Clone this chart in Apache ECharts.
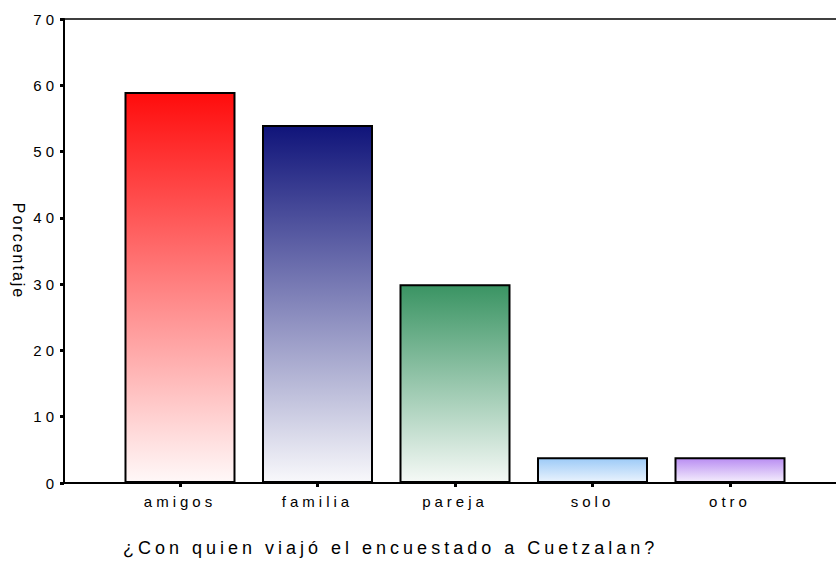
<!DOCTYPE html>
<html>
<head>
<meta charset="utf-8">
<script src="https://cdn.jsdelivr.net/npm/echarts@6/dist/echarts.min.js"></script>
<style>
  html, body { margin: 0; padding: 0; background: #fff; }
  #main { width: 836px; height: 571px; }
  /* spaced-out lettering like the original export */
  #main text { letter-spacing: 4px; }
  #main text[style*="16px"] { letter-spacing: 2px; }
</style>
</head>
<body>
<div id="main"></div>
<script>
// datos
const categorias = ['amigos', 'familia', 'pareja', 'solo', 'otro']
const porcentajes = [59, 54, 30, 3.9, 3.9]
const coloresArriba = ['#ff0c0c', '#10147a', '#3a9463', '#9ccaf7', '#b98df2']
const coloresAbajo = ['#fff8f8', '#f8f8fb', '#f5f9f6', '#eaf3fd', '#f4edfd']
const yTicks = [0, 10, 20, 30, 40, 50, 60, 70]

let myChart = echarts.init(document.getElementById('main'), null, { renderer: 'svg' })

const posiciones = categorias.map((c, i) => i)

let barras = porcentajes.map((v, i) => ({
    value: [i, v],
    itemStyle: {
        color: new echarts.graphic.LinearGradient(0, 0, 0, 1, [
            { offset: 0, color: coloresArriba[i] },
            { offset: 1, color: coloresAbajo[i] }
        ])
    }
}))

myChart.setOption({
    animation: false,
    backgroundColor: '#fff',
    textStyle: { fontFamily: 'Arial, "Liberation Sans", sans-serif' },
    title: {
        text: '¿Con quien viajó el encuestado a Cuetzalan?',
        left: 118,
        top: 534,
        textStyle: { fontSize: 18, fontWeight: 'normal', color: '#000' }
    },
    grid: { left: 64, right: 0, top: 19, bottom: 88 },
    xAxis: [{
        type: 'value',
        min: -0.8436,
        max: 4.7709,
        axisLine: { show: true, onZero: false, lineStyle: { color: '#000', width: 2 } },
        splitLine: { show: false },
        axisTick: {
            show: true, customValues: posiciones, length: 4,
            lineStyle: { color: '#000', width: 3 }
        },
        axisLabel: {
            customValues: posiciones,
            margin: 11,
            fontSize: 15,
            color: '#000',
            formatter: v => categorias[Math.round(v)]
        }
    }, {
        type: 'value',
        position: 'top',
        min: -0.8436,
        max: 4.7709,
        axisLine: { show: true, onZero: false, lineStyle: { color: '#000', width: 1.5 } },
        axisTick: { show: false },
        axisLabel: { show: false },
        splitLine: { show: false }
    }],
    yAxis: {
        type: 'value',
        min: yTicks[0],
        max: yTicks[yTicks.length - 1],
        interval: 10,
        name: 'Porcentaje',
        nameLocation: 'middle',
        nameRotate: -90,
        nameGap: 38,
        nameTextStyle: { fontSize: 16, color: '#000' },
        axisLine: { show: true, onZero: false, lineStyle: { color: '#000', width: 2 } },
        axisTick: { show: true, length: 4, lineStyle: { color: '#000', width: 3 } },
        axisLabel: { fontSize: 15, color: '#000', margin: 6 },
        splitLine: { show: false }
    },
    series: [{
        type: 'bar',
        xAxisIndex: 0,
        barWidth: 111,
        data: barras,
        itemStyle: { borderColor: '#000', borderWidth: 2 }
    }]
})
</script>
</body>
</html>
